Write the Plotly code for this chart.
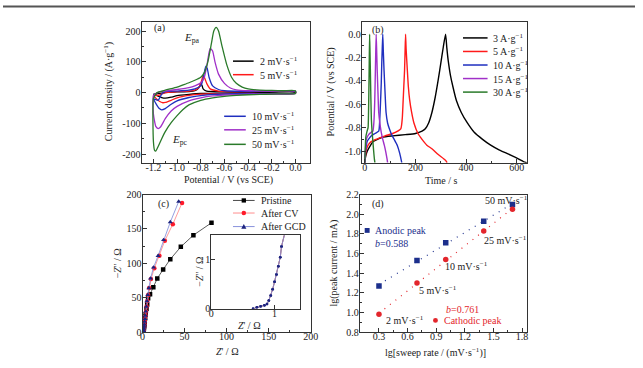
import numpy as np
import plotly.graph_objects as go

W, H = 643, 368
FONT = "Liberation Serif"
TXT = "#222222"
AXC = "#333333"

# ---------------- Panel (a): CV curves (potential V, current A/g) ----------------
cv2_v = [-1.2, -1.1, -1.0, -0.9, -0.85, -0.82, -0.805, -0.8, -0.79, -0.78, -0.75, -0.6, -0.3, 0.0,
         0.0, -0.3, -0.5, -0.8, -0.9, -1.0, -1.05, -1.1, -1.13, -1.17, -1.2, -1.2]
cv2_i = [-5, 0, 2, 3, 6, 14, 25, 29, 24, 12, 5, 3, 2, 2,
         -1, -1.5, -2, -3, -6, -10, -15, -18, -16, -10, -5, -5]

cv5_v = [-1.2, -1.15, -1.1, -1.0, -0.9, -0.85, -0.82, -0.8, -0.785, -0.778, -0.77, -0.75, -0.72, -0.65, -0.4, 0.0,
         0.0, -0.5, -0.8, -0.9, -1.0, -1.05, -1.1, -1.12, -1.15, -1.18, -1.2]
cv5_i = [-10, -8, 0, 3, 5, 8, 15, 30, 50, 57, 50, 30, 12, 5, 3, 3,
         -2, -3, -5, -9, -17, -25, -32, -33, -28, -18, -10]

cv10_v = [-1.2, -1.16, -1.13, -1.1, -1.0, -0.9, -0.85, -0.8, -0.78, -0.765, -0.757, -0.745, -0.73, -0.7, -0.65, -0.6, -0.4, 0.0,
          0.0, -0.4, -0.7, -0.8, -0.9, -1.0, -1.05, -1.1, -1.13, -1.15, -1.18, -1.2]
cv10_i = [-20, -25, -5, 3, 5, 8, 12, 22, 45, 75, 86, 78, 50, 22, 10, 6, 4, 4,
          -2, -3, -6, -10, -16, -27, -38, -52, -56, -52, -35, -20]

cv25_v = [-1.2, -1.15, -1.1, -1.0, -0.9, -0.85, -0.8, -0.77, -0.75, -0.73, -0.72, -0.70, -0.68, -0.65, -0.6, -0.55, -0.5, -0.4, -0.2, 0.0,
          0.0, -0.2, -0.4, -0.6, -0.7, -0.8, -0.9, -1.0, -1.05, -1.1, -1.14, -1.16, -1.18, -1.2, -1.2]
cv25_i = [-10, 2, 5, 10, 16, 22, 32, 50, 85, 130, 144, 135, 100, 60, 30, 15, 9, 6, 5, 5,
          -3, -4, -5, -8, -11, -17, -27, -45, -60, -85, -112, -117, -110, -70, -10]

cv50_v = [-1.2, -1.17, -1.1, -1.0, -0.95, -0.9, -0.85, -0.8, -0.77, -0.74, -0.71, -0.69, -0.67, -0.65, -0.62, -0.58, -0.54, -0.5, -0.45, -0.4, -0.3, -0.2, -0.1, 0.0,
          0.0, -0.1, -0.2, -0.3, -0.4, -0.5, -0.6, -0.7, -0.8, -0.9, -0.95, -1.0, -1.05, -1.1, -1.13, -1.16, -1.18, -1.19, -1.2, -1.2]
cv50_i = [-20, 0, 8, 18, 25, 32, 40, 50, 65, 100, 160, 200, 212, 200, 150, 90, 50, 30, 18, 12, 8, 7, 6, 6,
          -3, -4, -5, -6, -7, -9, -12, -17, -25, -40, -55, -75, -98, -127, -150, -175, -190, -188, -160, -20]

cv_labels = ["2 mV·s<sup>−1</sup>", "5 mV·s<sup>−1</sup>", "10 mV·s<sup>−1</sup>",
             "25 mV·s<sup>−1</sup>", "50 mV·s<sup>−1</sup>"]
cv_colors = ["#000000", "#ff1a1a", "#1f2fbf", "#a030c8", "#2a7a2a"]

# ---------------- Panel (b): GCD curves (time s, potential V) ----------------
gcd3_t = [0, 3, 10, 20, 32, 50, 71, 110, 160, 200, 226, 239, 252, 265, 278, 290, 300, 310, 319,
          324, 329, 338, 348, 362, 381, 405, 432, 465, 497, 530, 561, 595, 626, 640]
gcd3_v = [-1.1, -1.05, -1.0, -0.96, -0.92, -0.9, -0.88, -0.87, -0.86, -0.85, -0.83, -0.81, -0.76, -0.67, -0.54, -0.39, -0.25, -0.11, 0.0,
          -0.12, -0.22, -0.35, -0.45, -0.57, -0.67, -0.76, -0.84, -0.9, -0.95, -0.99, -1.02, -1.055, -1.09, -1.1]
gcd5_t = [0, 5, 13, 25, 45, 80, 110, 142, 148, 151, 154, 157, 159, 161,
          163, 168, 172, 177, 185, 194, 210, 226, 245, 265, 290, 319, 325]
gcd5_v = [-1.1, -1.0, -0.95, -0.92, -0.9, -0.87, -0.85, -0.81, -0.72, -0.59, -0.45, -0.31, -0.15, 0.0,
          -0.12, -0.31, -0.45, -0.56, -0.67, -0.76, -0.85, -0.9, -0.95, -0.98, -1.03, -1.08, -1.1]
gcd10_t = [0, 3, 9, 18, 26, 40, 55, 59, 62, 65, 67, 69, 71,
           73, 76, 80, 84, 90, 97, 106, 116, 128, 138, 146]
gcd10_v = [-1.1, -1.0, -0.92, -0.89, -0.87, -0.85, -0.83, -0.73, -0.59, -0.42, -0.25, -0.12, 0.0,
           -0.14, -0.31, -0.5, -0.67, -0.76, -0.81, -0.86, -0.9, -0.95, -1.02, -1.1]
gcd15_t = [0, 2, 6, 15, 25, 32, 36, 39, 41, 43, 45,
           47, 49, 52, 55, 60, 65, 71, 77, 83, 88, 90]
gcd15_v = [-1.1, -1.0, -0.9, -0.86, -0.84, -0.83, -0.75, -0.59, -0.4, -0.18, 0.0,
           -0.15, -0.31, -0.5, -0.67, -0.77, -0.84, -0.9, -0.95, -1.01, -1.07, -1.1]
gcd30_t = [0, 1.5, 4, 9, 13, 14.5, 16, 17.5, 19, 20.5, 22, 24, 26, 29, 32, 35, 38, 40]
gcd30_v = [-1.1, -1.0, -0.88, -0.83, -0.8, -0.7, -0.5, -0.25, 0.0, -0.15, -0.31, -0.55, -0.73, -0.84, -0.92, -1.0, -1.07, -1.1]

gcd_labels = ["3 A·g<sup>−1</sup>", "5 A·g<sup>−1</sup>", "10 A·g<sup>−1</sup>",
              "15 A·g<sup>−1</sup>", "30 A·g<sup>−1</sup>"]
gcd_colors = ["#000000", "#ff1a1a", "#1f2fbf", "#a030c8", "#2a7a2a"]

# ---------------- Panel (c): Nyquist (Z' ohm, -Z'' ohm) ----------------
hf_zre = [0.66, 0.72, 0.78, 0.84, 0.88, 0.91, 0.94, 0.97, 1.0, 1.03, 1.06, 1.09, 1.11]
hf_zim = [0.0, 0.03, 0.05, 0.07, 0.1, 0.17, 0.27, 0.4, 0.55, 0.7, 0.87, 1.05, 1.27]

pristine_zre = hf_zre + [1.3, 1.6, 1.9, 2.2, 2.6, 3.1, 3.7, 4.7, 5.5, 6.6, 8.9, 12.8, 17.5, 24.5, 33, 45.5, 60.5, 82]
pristine_zim = hf_zim + [2.5, 5, 8, 11, 15, 20, 26, 34, 40, 49, 55, 65, 78, 91, 106, 124, 141, 159]
aftercv_zre = hf_zre + [1.3, 1.6, 1.9, 2.2, 2.6, 3.0, 3.5, 4.1, 4.8, 5.6, 6.6, 7.8, 10, 14, 20, 26.5, 36, 47]
aftercv_zim = hf_zim + [2.5, 5, 8, 11, 15, 19, 24, 30, 37, 45, 54, 64, 77, 93, 111, 133, 157, 188]
aftergcd_zre = hf_zre + [1.3, 1.6, 1.9, 2.2, 2.5, 2.9, 3.3, 3.9, 4.5, 5.2, 6.2, 7.5, 9.5, 13, 18.5, 25, 33, 43]
aftergcd_zim = hf_zim + [2.5, 5, 8, 11, 15, 19, 24, 30, 37, 45, 54, 64, 78, 94, 111, 134, 160, 190]

eis_labels = ["Pristine", "After CV", "After GCD"]

# ---------------- Panel (d): lg(peak current) vs lg(sweep rate) ----------------
lg_rate = [0.301, 0.699, 1.0, 1.398, 1.699]
rate_labels = ["2 mV·s<sup>−1</sup>", "5 mV·s<sup>−1</sup>", "10 mV·s<sup>−1</sup>",
               "25 mV·s<sup>−1</sup>", "50 mV·s<sup>−1</sup>"]
lg_anodic = [1.27, 1.53, 1.71, 1.93, 2.10]
lg_cathodic = [0.98, 1.30, 1.54, 1.83, 2.05]
b_anodic_text = "<i>b</i>=0.588"
b_cathodic_text = "<i>b</i>=0.761"

# ---------------- helpers ----------------
def px(x):
    return x / W


def py(y):
    return 1 - y / H


def axis(domain, rng, tickvals, ticktext, minor_vals=None, anchor=None, standoff=-3):
    d = dict(domain=domain, range=rng, showline=True, linecolor=AXC, linewidth=1, mirror=True,
             ticks="inside", ticklen=4, tickwidth=1, tickcolor=AXC,
             tickmode="array", tickvals=tickvals, ticktext=ticktext,
             showgrid=False, zeroline=False, ticklabelstandoff=standoff,
             tickfont=dict(family=FONT, size=10, color=TXT), anchor=anchor)
    if minor_vals is not None:
        d["minor"] = dict(ticks="inside", ticklen=2, tickcolor=AXC, tickmode="array", tickvals=minor_vals)
    return d


fig = go.Figure()

# Panel a traces
for v, i, c, lab in zip([cv2_v, cv5_v, cv10_v, cv25_v, cv50_v], [cv2_i, cv5_i, cv10_i, cv25_i, cv50_i],
                        cv_colors, cv_labels):
    fig.add_trace(go.Scatter(x=v, y=i, mode="lines", line=dict(color=c, width=1.3, shape="spline", smoothing=0.5),
                             name=lab, xaxis="x", yaxis="y", showlegend=False))

# Panel b traces
for t, v, c, lab in zip([gcd3_t, gcd5_t, gcd10_t, gcd15_t, gcd30_t], [gcd3_v, gcd5_v, gcd10_v, gcd15_v, gcd30_v],
                        gcd_colors, gcd_labels):
    fig.add_trace(go.Scatter(x=t, y=v, mode="lines", line=dict(color=c, width=1.4, shape="spline", smoothing=0.5),
                             name=lab, xaxis="x2", yaxis="y2", showlegend=False))

# Panel c traces (main + inset)
eis_series = [
    (pristine_zre, pristine_zim, "#000000", "#333333", "square"),
    (aftercv_zre, aftercv_zim, "#ff1a2a", "#ff8080", "circle"),
    (aftergcd_zre, aftergcd_zim, "#1c237e", "#7a86d8", "triangle-up"),
]
for (zr, zi, mc, lc, sym), lab in zip(eis_series, eis_labels):
    fig.add_trace(go.Scatter(x=zr, y=zi, mode="lines+markers", name=lab,
                             line=dict(color=lc, width=0.8),
                             marker=dict(color=mc, size=4.5, symbol=sym),
                             xaxis="x3", yaxis="y3", showlegend=False))
for (zr, zi, mc, lc, sym), lab in zip(eis_series, eis_labels):
    fig.add_trace(go.Scatter(x=zr, y=zi, mode="lines+markers", name=lab,
                             line=dict(color=lc, width=0.8),
                             marker=dict(color="#1c237e", size=2.5, symbol="circle"),
                             xaxis="x5", yaxis="y5", showlegend=False, cliponaxis=True))

# Panel d traces
lr = np.array(lg_rate)
for vals, mc, sym in [(lg_anodic, "#1c2f8c", "square"), (lg_cathodic, "#e3262c", "circle")]:
    k, b0 = np.polyfit(lr, np.array(vals), 1)
    xf = np.array([lr.min(), lr.max()])
    fig.add_trace(go.Scatter(x=xf, y=k * xf + b0, mode="lines",
                             line=dict(color=mc, width=1.2, dash="1px,6px"),
                             xaxis="x4", yaxis="y4", showlegend=False))
    fig.add_trace(go.Scatter(x=lg_rate, y=vals, mode="markers",
                             marker=dict(color=mc, size=5.5, symbol=sym),
                             xaxis="x4", yaxis="y4", showlegend=False))

# ---------------- axes ----------------
dom_a_x = [px(141), px(312)]
dom_b_x = [px(365), px(533)]
dom_top_y = [py(162), py(17)]
dom_c_x = [px(142), px(313)]
dom_d_x = [px(363), px(533)]
dom_bot_y = [py(337), py(195)]
XS, YS = -5, -2

layout_axes = dict(
    xaxis=axis(dom_a_x, [-1.3, 0.12], [-1.2, -1.0, -0.8, -0.6, -0.4, -0.2, 0.0],
               ["-1.2", "-1.0", "-0.8", "-0.6", "-0.4", "-0.2", "0.0"],
               [-1.1, -0.9, -0.7, -0.5, -0.3, -0.1], anchor="y", standoff=XS),
    yaxis=axis(dom_top_y, [-228, 228], [-200, -100, 0, 100, 200],
               ["-200", "-100", "0", "100", "200"], [-150, -50, 50, 150], anchor="x", standoff=YS),
    xaxis2=axis(dom_b_x, [-12, 640], [0, 200, 400, 600], ["0", "200", "400", "600"],
                [100, 300, 500], anchor="y2", standoff=XS),
    yaxis2=axis(dom_top_y, [-1.1, 0.1], [0.0, -0.2, -0.4, -0.6, -0.8, -1.0],
                ["0.0", "-0.2", "-0.4", "-0.6", "-0.8", "-1.0"],
                [-0.1, -0.3, -0.5, -0.7, -0.9], anchor="x2", standoff=YS),
    xaxis3=axis(dom_c_x, [0, 200], [0, 50, 100, 150, 200], ["0", "50", "100", "150", "200"],
                [25, 75, 125, 175], anchor="y3", standoff=XS),
    yaxis3=axis(dom_bot_y, [0, 200], [0, 50, 100, 150, 200], ["0", "50", "100", "150", "200"],
                [25, 75, 125, 175], anchor="x3", standoff=YS),
    xaxis4=axis(dom_d_x, [0.1, 1.85], [0.3, 0.6, 0.9, 1.2, 1.5, 1.8],
                ["0.3", "0.6", "0.9", "1.2", "1.5", "1.8"],
                [0.45, 0.75, 1.05, 1.35, 1.65], anchor="y4", standoff=XS),
    yaxis4=axis(dom_bot_y, [0.8, 2.2], [0.8, 1.0, 1.2, 1.4, 1.6, 1.8, 2.0, 2.2],
                ["0.8", "1.0", "1.2", "1.4", "1.6", "1.8", "2.0", "2.2"],
                [0.9, 1.1, 1.3, 1.5, 1.7, 1.9, 2.1], anchor="x4", standoff=YS),
    xaxis5=axis([px(212), px(302)], [0, 1.4], [0, 1], ["0", "1"], None, anchor="y5", standoff=XS),
    yaxis5=axis([py(313), py(237)], [0, 1.5], [0, 1], ["0", "1"], None, anchor="x5", standoff=YS),
)

# ---------------- annotations ----------------
ann = []


def text(x, y, s, size=10, color=TXT, xanchor="left", yanchor="middle", angle=0):
    ann.append(dict(x=px(x), y=py(y), xref="paper", yref="paper", text=s, showarrow=False,
                    font=dict(family=FONT, size=size, color=color), xanchor=xanchor, yanchor=yanchor,
                    textangle=angle))


shapes = []


def seg(x0, x1, y, color, width=1.5):
    shapes.append(dict(type="line", xref="paper", yref="paper", x0=px(x0), x1=px(x1), y0=py(y), y1=py(y),
                       line=dict(color=color, width=width)))


# top border line of the image
shapes.append(dict(type="line", xref="paper", yref="paper", x0=0, x1=1, y0=py(0.5), y1=py(0.5),
                   line=dict(color="#555555", width=2)))

# axis titles
text(229, 180, "Potential / V (vs SCE)", xanchor="center")
text(107, 89, "Current density / (A·g<sup>−1</sup>)", xanchor="center", angle=-90)
text(446, 180, "Time / s", xanchor="center")
text(334, 89, "Potential / V (vs SCE)", xanchor="center", angle=-90)
text(228, 357, "<i>Z</i>' / Ω", xanchor="center")
text(116, 266, "−<i>Z</i>'' / Ω", xanchor="center", angle=-90)
text(440, 358, "lg[sweep rate / (mV·s<sup>−1</sup>)]", xanchor="center")
text(337, 266, "lg(peak current / mA)", xanchor="center", angle=-90)
# inset titles
text(199, 275, "−<i>Z</i>'' / Ω", xanchor="center", angle=-90)
text(251, 330, "<i>Z</i>' / Ω", xanchor="center")

# panel labels
text(152, 23, "(a)")
text(373, 25, "(b)")
text(156, 205, "(c)")
text(373, 205, "(d)")
text(182, 33, "<i>E</i><sub>pa</sub>", size=11)
text(170, 138, "<i>E</i><sub>pc</sub>", size=11)

# panel a legends
for (y, c, lab) in [(57, cv_colors[0], cv_labels[0]), (71, cv_colors[1], cv_labels[1])]:
    seg(234, 255, y, c)
    text(259, y, lab)
for (y, c, lab) in [(114, cv_colors[2], cv_labels[2]), (128, cv_colors[3], cv_labels[3]),
                    (143, cv_colors[4], cv_labels[4])]:
    seg(225, 247, y, c)
    text(251, y, lab)

# panel b legend
for y, c, lab in zip([33, 47, 61, 75, 89], gcd_colors, gcd_labels):
    seg(468, 493, y, c)
    text(497, y, lab)

# panel c legend
for y, (zr, zi, mc, lc, sym), lab in zip([201, 214, 228], eis_series, eis_labels):
    seg(234, 256, y, lc, width=0.9)
    cx = 245
    if sym == "square":
        shapes.append(dict(type="rect", xref="paper", yref="paper", x0=px(cx - 2.2), x1=px(cx + 2.2),
                           y0=py(y + 2.2), y1=py(y - 2.2), fillcolor=mc, line=dict(width=0)))
    elif sym == "circle":
        shapes.append(dict(type="circle", xref="paper", yref="paper", x0=px(cx - 2.3), x1=px(cx + 2.3),
                           y0=py(y + 2.3), y1=py(y - 2.3), fillcolor=mc, line=dict(width=0)))
    else:
        path = "M {} {} L {} {} L {} {} Z".format(px(cx - 2.6), py(y + 2.2), px(cx + 2.6), py(y + 2.2),
                                                   px(cx), py(y - 2.6))
        shapes.append(dict(type="path", xref="paper", yref="paper", path=path, fillcolor=mc,
                           line=dict(width=0)))
    text(260, y, lab)

# panel d labels
text(488, 201, rate_labels[4])
text(487, 242, rate_labels[3])
text(448, 269, rate_labels[2])
text(421, 294, rate_labels[1])
text(388, 325, rate_labels[0])
shapes.append(dict(type="rect", xref="paper", yref="paper", x0=px(368), x1=px(373),
                   y0=py(234.5), y1=py(229.5), fillcolor="#1c2f8c", line=dict(width=0)))
text(376, 232, "Anodic peak", color="#1c2f8c")
text(376, 245, b_anodic_text, color="#1c2f8c")
text(449, 314, b_cathodic_text, color="#e3262c")
shapes.append(dict(type="circle", xref="paper", yref="paper", x0=px(437.5), x1=px(442.5),
                   y0=py(327.5), y1=py(322.5), fillcolor="#e3262c", line=dict(width=0)))
text(447, 325, "Cathodic peak", color="#e3262c")

fig.update_layout(
    width=W, height=H, margin=dict(l=0, r=0, t=0, b=0),
    paper_bgcolor="white", plot_bgcolor="rgba(0,0,0,0)",
    showlegend=False, annotations=ann, shapes=shapes,
    font=dict(family=FONT, size=10, color=TXT),
    **layout_axes,
)

post = ("document.documentElement.style.margin='0';document.body.style.margin='0';"
        "document.body.style.padding='0';"
        "var d=document.getElementById('{plot_id}');d.style.position='absolute';"
        "d.style.left='0px';d.style.top='0px';")
fig.write_html("out.html", post_script=post, config={"displayModeBar": False})
